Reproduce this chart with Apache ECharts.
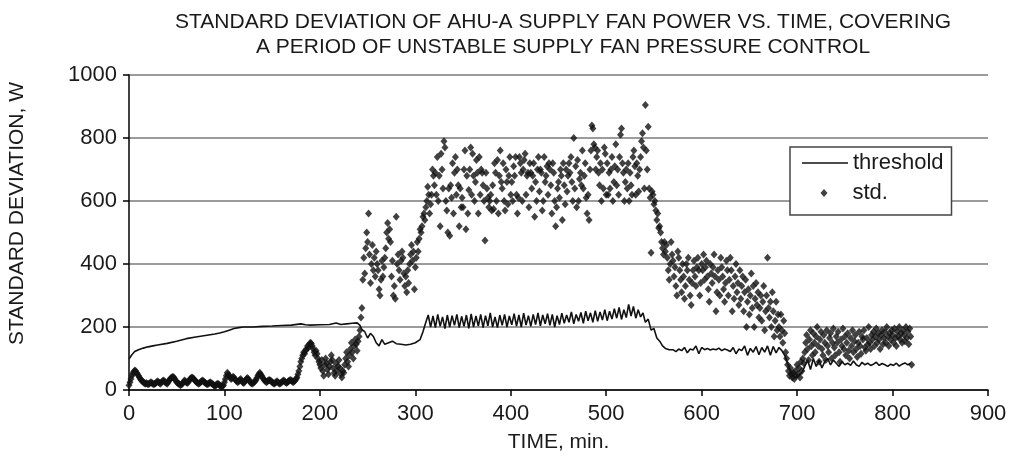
<!DOCTYPE html>
<html>
<head>
<meta charset="utf-8">
<script src="https://cdn.jsdelivr.net/npm/echarts@6/dist/echarts.min.js"></script>
<style>
html,body{margin:0;padding:0;background:#fff;}
#chart{width:1016px;height:461px;}
</style>
</head>
<body>
<div id="chart"></div>
<script>
// ---- data (std. sampled every minute, starting at 0 min) ----
var stdQuiet = [
15,25,35,45,52,58,62,60,55,50,45,
40,35,30,28,25,22,20,22,20,18,
20,22,25,22,20,18,20,22,25,28,
25,22,20,25,28,30,28,25,22,20,
25,30,35,38,40,42,40,35,30,25,
22,20,18,15,18,20,25,30,28,25,
22,25,30,35,38,40,38,35,30,28,
25,22,20,22,25,28,30,28,25,22,
20,18,20,22,25,22,20,18,15,12,
15,18,20,18,15,12,10,12,15,25,
35,45,55,50,45,40,35,38,42,40,
35,30,28,25,28,32,35,30,25,22,
25,30,35,38,35,30,25,22,20,22,
25,28,32,38,45,50,55,50,45,40,
35,30,28,25,28,30,32,30,28,25,
22,20,22,25,28,25,22,20,22,25,
28,30,28,25,22,25,28,30,32,30,
28,25,28,30,35,40,50,60,75,90
];
var stdRise = [
100,110,120,115,125,130,140,135,145,150,148,140,130,120,110,125,115,100,90,80,
70,95,60,45,80,100,85,65,50,75,90,110,95,70,55,45,85,60,75,95,
70,50,40,60,55,80,100,120,90,75,110,130,150,120,100,140,160,145,125,155,
170,190,230,260,350,420,370,450,500,470,560,430,340,400,460,380,420,360,440,400,
380,320,300,350,410,360,390,420,450,500,530,480,510,470,360,410,300,330,290,550,
400,430,380,350,410,440,420,370,330,360,310,380,340,400,430,460,410,440,320,390
];
var stdUnstable = [
420,470,440,480,510,500,520,550,560,540,580,600,645,620,560,590,620,700,680,650,
690,620,740,600,680,520,750,700,640,790,770,600,570,500,640,490,650,610,720,560,
690,740,620,700,650,520,640,580,610,580,700,760,510,680,560,635,700,770,620,750,
680,600,660,730,690,560,740,620,700,690,650,600,475,690,640,610,580,600,620,570,
650,575,720,690,600,730,560,680,760,660,640,720,600,570,700,660,590,680,740,620,
660,600,710,680,740,620,560,610,740,720,690,600,700,730,750,620,680,690,580,720,
690,640,680,720,550,660,600,700,740,630,700,690,570,600,740,660,680,710,620,720,
700,650,560,720,690,600,520,580,640,660,610,700,680,540,720,650,590,700,630,680,
720,690,740,660,600,800,640,710,580,730,600,670,690,650,760,640,680,720,610,560,
620,540,700,760,840,830,780,770,700,740,760,690,650,720,600,700,640,770,750,620,
720,620,690,640,700,740,600,660,710,780,650,700,620,740,810,830,720,690,600,660,
700,640,720,600,690,650,620,740,760,710,620,720,680,630,700,740,790,815,770,640,
905,760,700,836,640,610,436,630,620,590,600,570,540,560,514,520,500,470,450,430
];
var stdRecover = [
470,440,460,420,380,350,400,470,430,410,360,390,330,300,440,420,380,350,310,400,
360,290,330,400,380,420,350,300,270,340,380,410,360,330,390,420,380,300,340,400,
380,430,350,390,410,360,320,280,400,370,340,390,430,360,250,310,380,350,300,420,
390,360,320,280,340,410,380,300,350,420,380,250,330,290,360,400,310,340,270,380,
290,330,360,250,310,350,200,280,320,240,300,370,260,330,200,290,340,270,310,230,
260,300,220,280,330,190,250,300,420,260,230,280,200,310,250,170,220,280,190,240,
200,170,240,190,150,220,180,120,100,80,60,45,70,50,40,55,35,60,45,80
];
var stdTail = [
50,70,40,90,60,100,85,120,150,175,130,95,160,190,140,110,180,150,120,170,
200,140,90,160,185,130,110,175,150,95,190,140,120,165,180,100,150,195,135,110,
170,150,185,120,90,160,140,195,130,170,110,150,180,125,100,165,140,190,120,155,
175,130,105,150,185,140,115,170,160,190,135,125,165,145,200,150,130,175,160,185,
140,170,195,150,180,160,130,175,190,145,165,185,150,200,170,140,180,160,190,175,
150,195,165,140,185,170,200,160,180,150,190,175,155,200,165,185,145,195,170,80
];
// threshold: [time (min), W]
var thresholdPts = [
[0,98],[3,112],[6,122],[10,128],[15,133],[20,137],[25,140],[30,143],[40,148],[50,155],
[60,163],[70,168],[80,173],[90,178],[95,181],[100,185],[105,190],[110,195],[115,198],[120,200],
[130,200],[140,202],[150,203],[160,205],[170,206],[180,210],[185,207],[190,206],[200,207],[210,208],
[217,213],[222,208],[228,210],[234,212],[239,213],[242,205],[244,192],[247,185],[250,165],[253,180],
[256,170],[259,150],[262,140],[265,160],[268,145],[272,150],[276,155],[280,147],[285,145],[290,143],
[295,145],[300,150],[305,160],[308,185],[311,215],
[313.5,238],[316,200],[318.5,235],[321,198],[323.5,240],[326,202],[328.5,232],[331,195],[333.5,238],[336,200],
[338.5,236],[341,205],[343.5,240],[346,198],[348.5,234],[351,202],[353.5,238],[356,196],[358.5,242],[361,200],
[363.5,235],[366,203],[368.5,240],[371,198],[373.5,236],[376,204],[378.5,245],[381,200],[383.5,232],[386,198],
[388.5,238],[391,205],[393.5,240],[396,200],[398.5,235],[401,207],[403.5,242],[406,203],[408.5,238],[411,200],
[413.5,244],[416,206],[418.5,236],[421,202],[423.5,240],[426,208],[428.5,245],[431,204],[433.5,238],[436,210],
[438.5,242],[441,205],[443.5,240],[446,200],[448.5,236],[451,208],[453.5,244],[456,212],[458.5,238],[461,215],
[463.5,248],[466,210],[468.5,240],[471,218],[473.5,246],[476,212],[478.5,250],[481,220],[483.5,245],[486,215],
[488.5,252],[491,218],[493.5,248],[496,222],[498.5,255],[501,220],[503.5,250],[506,225],[508.5,258],[511,228],
[513.5,262],[516,224],[518.5,255],[521,230],[523.5,272],[526,235],[528.5,265],[531,228],[533.5,255],[536,232],
[538.5,245],[541,215],[544,225],[547,190],[550,195],[553,165],[556,155],[559,140],[562,132],[566,128],
[570,128],[573,122],[576,130],[579,125],[582,135],[585,118],[588,130],[591,127],[594,140],[597,115],
[600,135],[603,128],[606,132],[609,127],[612,130],[615,128],[618,133],[621,125],[624,130],[627,127],
[630,122],[633,135],[636,115],[639,130],[642,125],[645,140],[648,110],[651,132],[654,120],[657,138],
[660,112],[663,135],[666,120],[669,140],[672,110],[675,138],[678,118],[681,135],[684,125],[687,110],
[690,85],[693,60],[696,45],[699,40],[702,48],[705,55],[708,75],[711,95],[714,65],[717,100],
[720,75],[723,95],[726,70],[729,90],[732,100],[735,80],[738,95],[741,85],[744,75],[747,90],
[750,80],[753,85],[756,78],[759,92],[762,80],[765,75],[768,88],[771,80],[774,85],[777,78],
[780,82],[783,88],[786,78],[789,84],[792,80],[795,75],[798,82],[801,78],[804,85],[807,76],
[810,82],[813,86],[816,80],[819,85]
];
var yTicks = [0,200,400,600,800,1000];
var xTicks = [0,100,200,300,400,500,600,700,800,900];
var titleText = 'STANDARD DEVIATION OF AHU-A SUPPLY FAN POWER VS. TIME, COVERING\nA PERIOD OF UNSTABLE SUPPLY FAN PRESSURE CONTROL';

var stdValues = stdQuiet.concat(stdRise, stdUnstable, stdRecover, stdTail);
var stdData = stdValues.map(function (v, i) { return [i, v]; });

var FONT = 'Liberation Sans, Arial, sans-serif';
var TXT = '#1a1a1a';
var chart = echarts.init(document.getElementById('chart'), null, {renderer: 'canvas'});
chart.setOption({
  animation: false,
  backgroundColor: '#fff',
  title: {
    text: titleText,
    left: 558,
    textAlign: 'center',
    top: 5,
    textStyle: {fontFamily: FONT, fontSize: 21, fontWeight: 'normal', color: TXT, lineHeight: 25}
  },
  grid: {left: 129, right: 28, top: 75, bottom: 71, containLabel: false, outerBoundsMode: 'none'},
  legend: [{
    data: [{name: 'threshold', icon: 'rect'}],
    left: 790, top: 147,
    orient: 'vertical',
    padding: [5, 8, 41, 12],
    itemWidth: 46, itemHeight: 1.6,
    borderColor: '#444', borderWidth: 1.5,
    backgroundColor: '#fff',
    textStyle: {fontFamily: FONT, fontSize: 22, color: TXT, lineHeight: 22}
  }, {
    data: [{name: 'std.', icon: 'diamond'}],
    left: 820.5, top: 182,
    padding: 0,
    itemWidth: 7, itemHeight: 8,
    textStyle: {fontFamily: FONT, fontSize: 22, color: TXT, lineHeight: 22, padding: [0, 0, 0, 20]}
  }],
  xAxis: {
    type: 'value', min: 0, max: 900, interval: 100,
    name: 'TIME, min.', nameLocation: 'middle', nameGap: 42,
    nameTextStyle: {fontFamily: FONT, fontSize: 21, color: TXT},
    axisLine: {show: true, onZero: false, lineStyle: {color: '#000', width: 1.5}},
    axisTick: {show: true, inside: false, length: 6, lineStyle: {color: '#000', width: 1.5}},
    axisLabel: {fontFamily: FONT, fontSize: 22, color: TXT, margin: 13,
      formatter: function (v) { return xTicks.indexOf(v) >= 0 ? String(v) : ''; }},
    splitLine: {show: false}
  },
  yAxis: {
    type: 'value', min: 0, max: 1000, interval: 200,
    name: 'STANDARD DEVIATION, W', nameLocation: 'middle', nameGap: 101, nameRotate: 90,
    nameTextStyle: {fontFamily: FONT, fontSize: 21, color: TXT, padding: [0, 0, 0, 38]},
    axisLine: {show: true, lineStyle: {color: '#000', width: 1.5}},
    axisTick: {show: true, inside: false, length: 6, lineStyle: {color: '#000', width: 1.5}},
    axisLabel: {fontFamily: FONT, fontSize: 22, color: TXT, margin: 12,
      formatter: function (v) { return yTicks.indexOf(v) >= 0 ? String(v) : ''; }},
    splitLine: {show: true, lineStyle: {color: '#7a7a7a', width: 1.5}}
  },
  series: [{
    name: 'threshold',
    type: 'line',
    data: thresholdPts,
    symbol: 'none',
    showSymbol: false,
    lineStyle: {color: '#111', width: 1.6},
    itemStyle: {color: '#111'},
    z: 2
  }, {
    name: 'std.',
    type: 'scatter',
    data: stdData,
    symbol: 'diamond',
    symbolSize: [7, 8],
    itemStyle: {color: '#111'},
    z: 3
  }]
});
</script>
</body>
</html>
